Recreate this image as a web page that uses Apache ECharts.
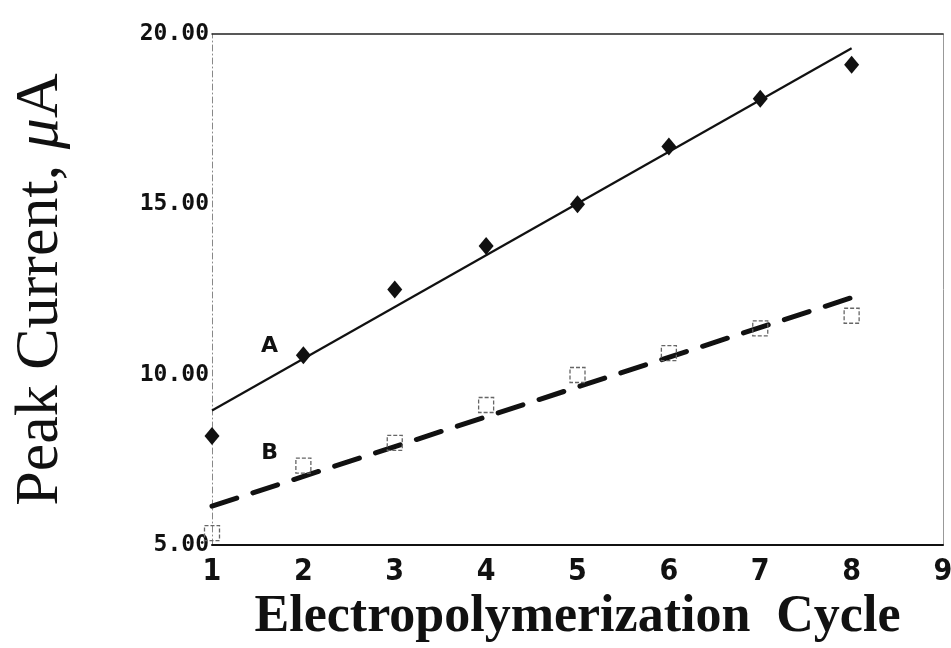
<!DOCTYPE html>
<html><head><meta charset="utf-8">
<script src="https://cdn.jsdelivr.net/npm/echarts@6/dist/echarts.min.js"></script>
<style>html,body{margin:0;padding:0;background:#fff}#c{width:951px;height:648px}</style>
</head><body><div id="c"></div>
<script>
var cycles = [1, 2, 3, 4, 5, 6, 7, 8];
var seriesA = [8.2, 10.57, 12.5, 13.78, 15.0, 16.7, 18.1, 19.1];
var seriesB = [5.35, 7.33, 8.0, 9.11, 9.99, 10.63, 11.36, 11.73];
var fitA = [[1, 8.95], [8, 19.58]];
var fitB = [[1, 6.14], [8, 12.26]];
var labelA = [[1.63, 10.83, 'A']];
var labelB = [[1.63, 7.68, 'B']];
var xTicks = [1, 2, 3, 4, 5, 6, 7, 8, 9];
var yTicks = [5, 10, 15, 20];

var chart = echarts.init(document.getElementById('c'));
function pts(xs, ys) { return xs.map(function (x, i) { return [x, ys[i]]; }); }
chart.setOption({
  animation: false,
  backgroundColor: '#fff',
  grid: { left: 212, right: 8, top: 34, bottom: 103, containLabel: false, outerBoundsMode: 'none' },
  xAxis: [{
    type: 'value', min: xTicks[0], max: xTicks[xTicks.length - 1], interval: 1,
    axisLine: { show: true, onZero: false, lineStyle: { color: '#111', width: 2 } },
    axisTick: { show: false }, splitLine: { show: false },
    axisLabel: { margin: 12, color: '#111', fontSize: 30, fontWeight: 'bold',
      fontFamily: "'DejaVu Sans Condensed', 'Liberation Sans Narrow', sans-serif" },
    name: 'Electropolymerization  Cycle', nameLocation: 'middle', nameGap: 46,
    nameTextStyle: { color: '#111', fontSize: 52, fontWeight: 'bold', fontFamily: "'Liberation Serif', 'Times New Roman', serif",
      verticalAlign: 'top' }
  }, {
    type: 'value', position: 'top', min: 1, max: 9,
    axisLine: { show: true, lineStyle: { color: '#222', width: 1.5 } },
    axisTick: { show: false }, axisLabel: { show: false }, splitLine: { show: false }
  }],
  yAxis: [{
    type: 'value', min: yTicks[0], max: yTicks[yTicks.length - 1], interval: 5,
    axisLine: { show: true, onZero: false, lineStyle: { color: '#888', width: 1, type: [6, 3, 1, 3] } },
    axisTick: { show: false }, splitLine: { show: false },
    axisLabel: { margin: 3, color: '#111', fontSize: 23, fontWeight: 'bold',
      fontFamily: "'DejaVu Sans Mono', monospace",
      formatter: function (v) { return v.toFixed(2); } },
    name: '{n|Peak Current, }{m|μ}{n|A}', nameLocation: 'middle', nameGap: 140, nameRotate: 90,
    nameTextStyle: { rich: {
      n: { fontSize: 62, color: '#111', fontFamily: "'Liberation Serif', 'Times New Roman', serif" },
      m: { fontSize: 62, color: '#111', fontStyle: 'italic', fontFamily: "'Liberation Serif', 'Times New Roman', serif" }
    } }
  }, {
    type: 'value', position: 'right', min: 5, max: 20,
    axisLine: { show: true, lineStyle: { color: '#999', width: 1 } },
    axisTick: { show: false }, axisLabel: { show: false }, splitLine: { show: false }
  }],
  series: [
    { type: 'line', data: fitA, symbol: 'none', lineStyle: { color: '#111', width: 2.2 }, z: 2 },
    { type: 'line', data: fitB, symbol: 'none', lineStyle: { color: '#111', width: 5, type: [26, 17], cap: 'round' }, z: 2 },
    { type: 'scatter', data: pts(cycles, seriesA), symbol: 'diamond', symbolSize: [15, 18],
      itemStyle: { color: '#111', opacity: 1 }, z: 3 },
    { type: 'scatter', data: pts(cycles, seriesB), symbol: 'rect', symbolSize: 15,
      itemStyle: { color: 'rgba(255,255,255,0)', borderColor: '#666', borderWidth: 1.3, borderType: [4, 2], opacity: 1 }, z: 3 },
    { type: 'scatter', data: labelA.concat(labelB), symbolSize: 0, silent: true,
      itemStyle: { opacity: 1 },
      label: { show: true, position: 'inside', formatter: function (p) { return p.value[2]; },
        color: '#111', fontSize: 22, fontWeight: 'bold', fontFamily: "'DejaVu Sans', sans-serif" } }
  ]
});
</script></body></html>
